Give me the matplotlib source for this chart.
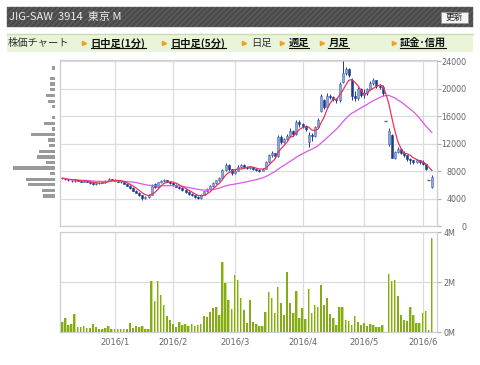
import matplotlib
matplotlib.use('Agg')
import matplotlib.pyplot as plt
import matplotlib.patches as mpatches
from matplotlib.lines import Line2D
import numpy as np
import pandas as pd

plt.rcParams['font.family'] = ['Noto Sans CJK JP', 'DejaVu Sans']

# ---- data ----
title = 'JIG-SAW  3914  東京 M'
button_label = '更新'
menu_items = ['株価チャート', '日中足(1分)', '日中足(5分)', '日足', '週足', '月足', '証金･信用']
menu_links = [False, True, True, False, True, True, True]

months = ['2015/12', '2016/1', '2016/2', '2016/3', '2016/4', '2016/5', '2016/6']
days_in_month = [17, 19, 20, 22, 20, 19, 4]

open_ = [7100, 6950, 6800, 6600, 6550, 6750, 6600, 6500, 6600, 6450, 6300, 6100, 6250, 6350, 6400, 6650, 6900,
         6800, 6650, 6500, 6450, 6200, 5900, 5600, 5200, 4900, 4500, 4100, 4300, 4600, 6100, 5700, 6400, 6600, 6700, 6500,
         6300, 6000, 5800, 5600, 5300, 5000, 4700, 4500, 4300, 4100, 4600, 5100, 5500, 5900, 6300, 6700, 7000, 8200, 8900, 8300,
         7700, 8100, 8700, 8900, 8700, 8500, 8600, 8300, 8200, 8100, 8400, 9300, 10300, 10600, 10200, 13000, 12300, 12700, 13100, 13800, 13400, 15200,
         14800, 14600, 12200, 13300, 13100, 14400, 16800, 18300, 17400, 19000, 18800, 18500, 18300, 21000, 22300, 22800, 21300, 18900, 18600, 19900,
         19100, 19300, 19900, 20800, 21200, 20400, 20300, 15300, 11900, 13300, 10000, 10800, 11200, 10700, 10300, 9800, 9600, 9300, 9600,
         9400, 9000, 6800, 5700]
close = [7000, 6850, 6700, 6550, 6800, 6600, 6500, 6650, 6450, 6300, 6100, 6250, 6350, 6400, 6650, 6900, 6800,
         6600, 6500, 6450, 6200, 5900, 5600, 5200, 4900, 4500, 4100, 4300, 4600, 5900, 5700, 6400, 6600, 6700, 6500, 6300,
         6000, 5800, 5600, 5300, 5000, 4700, 4500, 4300, 4100, 4600, 5100, 5500, 5900, 6300, 6700, 7000, 8200, 8900, 8300, 7700,
         8100, 8700, 8900, 8700, 8500, 8600, 8300, 8200, 8100, 8400, 9300, 10300, 10600, 10200, 13000, 12300, 12700, 13100, 13800, 13400, 15200, 14800,
         14600, 14200, 13300, 13100, 14400, 15500, 18900, 17400, 19000, 18800, 18500, 18300, 20600, 22300, 22800, 22000, 18900, 18600, 19900, 19100,
         19300, 19900, 20800, 21200, 20400, 20300, 19300, 15300, 13800, 10000, 10800, 11200, 10700, 10300, 9800, 9600, 9300, 9600, 9300,
         9000, 8300, 6800, 7200]
high = [7200, 7000, 6850, 6700, 6900, 6800, 6650, 6700, 6650, 6500, 6350, 6300, 6400, 6500, 6700, 7000, 6950,
        6850, 6700, 6600, 6500, 6250, 6000, 5700, 5300, 5000, 4600, 4400, 4700, 6100, 6300, 6500, 6750, 6900, 6750, 6600,
        6400, 6100, 5900, 5700, 5400, 5100, 4800, 4600, 4400, 4700, 5200, 5600, 6000, 6400, 6800, 7200, 8400, 9200, 9000, 8400,
        8300, 8900, 9100, 9000, 8800, 8800, 8700, 8400, 8300, 8500, 9500, 10500, 10900, 10700, 13300, 13200, 12900, 13400, 14300, 14000, 15500, 15400,
        15000, 14700, 13700, 13600, 14600, 15700, 19200, 18500, 19300, 19200, 19000, 18700, 20900, 24000, 23200, 23000, 21500, 19600, 20200, 20100,
        19900, 20100, 21100, 21500, 21300, 20700, 20500, 15300, 14300, 13400, 11000, 11600, 11400, 10900, 10400, 10000, 9700, 9800, 9700,
        9600, 9100, 6800, 7400]
low = [6950, 6800, 6600, 6400, 6500, 6550, 6400, 6450, 6400, 6200, 6000, 6050, 6200, 6300, 6350, 6600, 6700,
       6550, 6400, 6350, 6100, 5850, 5500, 5100, 4800, 4400, 3900, 4000, 4200, 4500, 5600, 5600, 6300, 6500, 6400, 6200,
       5900, 5700, 5500, 5200, 4900, 4600, 4400, 4200, 3950, 4050, 4500, 5000, 5400, 5800, 6200, 6600, 6900, 8100, 8100, 7500,
       7600, 8000, 8500, 8500, 8300, 8400, 8200, 8000, 7900, 8000, 8300, 9200, 10100, 10000, 10100, 12000, 12100, 12500, 13000, 13100, 13300, 14500,
       14300, 13900, 11500, 12400, 13000, 14300, 16600, 17000, 17300, 18500, 18200, 17900, 18100, 20800, 22000, 21700, 18400, 18200, 18400, 18800,
       18700, 19100, 19800, 20500, 20100, 19900, 18900, 15300, 11700, 9900, 9800, 10600, 10500, 10100, 9500, 9000, 9000, 9200, 9100,
       8900, 8200, 6800, 5600]
# volume in millions of shares
volume = [0.43, 0.57, 0.28, 0.32, 0.71, 0.21, 0.21, 0.24, 0.16, 0.16, 0.35, 0.21, 0.13, 0.15, 0.16, 0.27, 0.13,
          0.13, 0.12, 0.15, 0.12, 0.15, 0.37, 0.16, 0.27, 0.21, 0.24, 0.13, 0.12, 2.03, 1.24, 2.05, 1.5, 1.09, 0.65, 0.49,
          0.32, 0.21, 0.4, 0.28, 0.32, 0.27, 0.32, 0.25, 0.28, 0.32, 0.65, 0.6, 0.8, 0.96, 1.01, 0.69, 2.8, 1.96, 1.28, 0.93,
          2.28, 2.07, 1.37, 0.88, 0.36, 1.29, 0.4, 0.35, 0.24, 0.24, 0.81, 1.6, 1.37, 0.76, 1.79, 1.15, 0.68, 2.4, 1.17, 0.76, 1.65, 0.56,
          0.96, 0.52, 1.71, 0.76, 1.07, 1.01, 1.89, 1.09, 1.35, 0.73, 0.56, 0.28, 0.99, 1.01, 0.49, 0.47, 0.31, 0.65, 0.41, 0.29,
          0.37, 0.25, 0.35, 0.31, 0.23, 0.2, 0.28, 0.03, 2.31, 2.03, 2.08, 1.45, 0.69, 0.51, 0.47, 1.01, 0.67, 0.36, 0.37,
          0.77, 0.83, 0.08, 3.76]

# volume-by-price profile (left side)
vp_price = [4410, 5220, 6050, 6820, 7640, 8470, 9240, 10060, 10880, 11700, 12530,
            13300, 14120, 14940, 15760, 17360, 18180, 19000, 19870, 20690, 21460, 23010]
vp_volume = [11.3, 12.3, 27, 29, 4.3, 41.3, 9, 17.3, 16, 5.3, 6.7,
             24, 3, 10.3, 3, 3, 6.7, 9, 4.3, 5, 4.3, 2.3]

price_ticks = [0, 4000, 8000, 12000, 16000, 20000, 24000]
vol_ticks = [0, 2, 4]

# ---- derived ----
o = np.array(open_, float)
c = np.array(close, float)
h = np.array(high, float)
l = np.array(low, float)
x = np.arange(len(c))
ma5 = pd.Series(c).rolling(5, min_periods=1).mean()
ma25 = pd.Series(c).rolling(25, min_periods=1).mean()
starts = np.cumsum([0] + days_in_month[:-1])
tick_pos = starts[1:]
tick_lab = months[1:]

W, H = 480, 365
fig = plt.figure(figsize=(W / 100, H / 100), dpi=100)

def fx(px):
    return px / W

def fy(py):
    return 1 - py / H

# header bar
hdr = mpatches.Rectangle((fx(7), fy(27.3)), fx(466), 20.6 / H, transform=fig.transFigure,
                         facecolor='#4b4b4b', edgecolor='#5d5d5d', hatch='//////', lw=0.3)
fig.add_artist(hdr)
fig.text(fx(9), fy(17), title, color='#ececec', fontsize=8, va='center', ha='left')
btn = mpatches.Rectangle((fx(440.5), fy(23)), fx(27), 10.5 / H, transform=fig.transFigure,
                         facecolor='#f4f4f4', edgecolor='#999999', lw=0.6)
fig.add_artist(btn)
fig.text(fx(454), fy(17.8), button_label, color='#222222', fontsize=6.3, va='center', ha='center')

# menu bar
menu = mpatches.Rectangle((fx(7), fy(51.7)), fx(466), 17.7 / H, transform=fig.transFigure,
                          facecolor='#e9f4d9', edgecolor='none')
fig.add_artist(menu)
fig.add_artist(Line2D([fx(7), fx(473)], [fy(34), fy(34)], transform=fig.transFigure,
                      color='#c9dcae', lw=1))
menu_x = [8, 90.7, 170.7, 250.7, 288.7, 328.3, 400]
menu_texts = []
for i, (lab, link) in enumerate(zip(menu_items, menu_links)):
    t = fig.text(fx(menu_x[i]), fy(43), lab, fontsize=7.4, va='center', ha='left',
                 color='#111111' if link else '#333333',
                 fontweight='bold' if link else 'normal')
    menu_texts.append((t, link))
    if i > 0:
        fig.add_artist(Line2D([fx(menu_x[i] - 6.5)], [fy(43)], transform=fig.transFigure,
                              marker='>', markersize=3.0, color='#f0a020', lw=0))

# price axes
axp = fig.add_axes([fx(60), fy(226.5), fx(376.7), (226.5 - 60) / H])
axv = fig.add_axes([fx(60), fy(332.3), fx(376.7), (332.3 - 232) / H], sharex=axp)

up = c >= o
wick_col = '#1d3b8d'
axp.vlines(x, l, h, color=wick_col, lw=0.7, zorder=3)
body_lo = np.minimum(o, c)
body_h = np.abs(c - o)
axp.bar(x[up], body_h[up], bottom=body_lo[up], width=0.65, color='#8fa7d6',
        edgecolor='#4a67b0', lw=0.4, zorder=4)
axp.bar(x[~up], body_h[~up], bottom=body_lo[~up], width=0.65, color='#1d3b8d',
        edgecolor='#1d3b8d', lw=0.4, zorder=4)
flat = body_h == 0
axp.hlines(c[flat], x[flat] - 0.45, x[flat] + 0.45, color='#4a67b0', lw=1, zorder=5)
axp.plot(x, ma25, color='#d95ae8', lw=0.9, zorder=5)
axp.plot(x, ma5, color='#e8345c', lw=0.9, zorder=6)

axp.set_xlim(-0.75, len(c) + 0.55)
axp.set_ylim(0, 24150)
axp.set_yticks(price_ticks)
axp.set_yticklabels([str(v) for v in price_ticks])

# volume bars (two-tone)
axv.bar(x - 0.1, volume, width=0.55, color='#84ab1c', lw=0, zorder=3)
axv.bar(x + 0.28, volume, width=0.22, color='#c8e07e', lw=0, zorder=3)
axv.set_ylim(0, 4)
axv.set_yticks(vol_ticks)
axv.set_yticklabels([f'{v}M' for v in vol_ticks])

for ax in (axp, axv):
    ax.set_xticks(tick_pos)
    ax.grid(True, color='#dcdcdc', lw=0.9)
    ax.set_axisbelow(True)
    ax.yaxis.tick_right()
    ax.tick_params(axis='y', which='both', length=3, color='#b0b0b0', labelsize=5.8,
                   labelcolor='#666666', pad=2)
    ax.tick_params(axis='x', length=0, labelsize=6, labelcolor='#666666', pad=4)
    for s in ax.spines.values():
        s.set_color('#cfcfcf')
        s.set_linewidth(0.9)
    for lab in ax.get_yticklabels():
        lab.set_fontfamily(['DejaVu Sans'])
# price labels are right-aligned at the far edge
axp.tick_params(axis='y', pad=18.5)
for lab in axp.get_yticklabels():
    lab.set_horizontalalignment('right')
axp.tick_params(axis='x', labelbottom=False)
axv.set_xticklabels(tick_lab)
for lab in axv.get_xticklabels():
    lab.set_fontfamily(['DejaVu Sans'])

# volume-by-price profile
axh = fig.add_axes([0, fy(226.5), fx(54.7), (226.5 - 60) / H], sharey=axp)
axh.barh(vp_price, vp_volume, height=480, color='#9a9a9a', lw=0)
axh.set_xlim(54.7, 0)
axh.axis('off')

# underline linked menu items
fig.canvas.draw()
r = fig.canvas.get_renderer()
for t, link in menu_texts:
    if link:
        bb = t.get_window_extent(r)
        fig.add_artist(Line2D([bb.x0 / W, bb.x1 / W], [(bb.y0 + 0.5) / H] * 2,
                              transform=fig.transFigure, color='#111111', lw=0.8))

fig.savefig('out.png', dpi=100)
